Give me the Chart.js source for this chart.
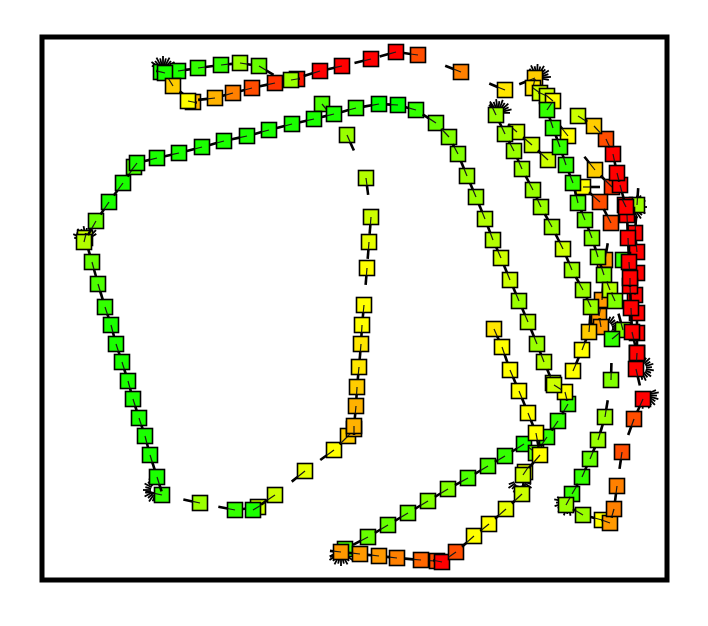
<!DOCTYPE html>
<html><head><meta charset="utf-8">
<script src="https://cdn.jsdelivr.net/npm/chart.js@4.4.0/dist/chart.umd.min.js"></script>
<style>html,body{margin:0;padding:0;background:#fff}#wrap{width:708px;height:626px}</style>
</head><body><div id="wrap"><canvas id="c"></canvas></div>
<script>
// Track samples: [easting, northing, speedLevel (0 = green ... 10 = red)]
const xExtent = [42, 667];
const yExtent = [37, 580];

const greenDiagonal = [
  [345,549,1.5],[368,537,2],[388,525,2],[408,513,2],[428,501,2.5],[448,489,2.5],[468,478,1.5],
  [488,466,1.5],[505,456,1],[524,444,0.5],[536,453,2],[547,437,1],[558,421,1],[568,404,1],[565,392,5],[554,385,4]
];

const southLoop = [
  [341,552,7],[360,554,7],[379,556,7],[397,558,7.5],[421,560,8],[437,561,8.5],[442,562,10],[456,552,8.5],
  [474,536,5],[489,524,5],[506,509,4.5],[522,494,4],[525,472,4.5],[523,475,4],[540,455,5],[536,433,5],
  [528,413,5],[519,391,5],[510,370,5],[502,347,5],[494,329,5.5]
];

const westLoop = [
  [157,477,0.5],[150,455,0.5],[145,436,0.5],[139,418,0.5],[133,399,0.5],[128,381,0.5],[122,362,0.5],
  [116,344,0.5],[111,325,0.5],[105,307,1],[98,284,1.5],[92,262,2],[85,238,4],[84,242,3.5],[96,221,2],
  [109,202,0.5],[123,183,0.5],[134,167,1.5],[137,163,0.5],[157,158,0.5],[179,153,0.5],[202,147,0.5],
  [224,141,0.5],[247,136,0.5],[269,130,0.5],[292,124,0.5],[314,119,0.5],[334,114,0.5],[356,108,1],
  [379,104,0],[398,105,0],[416,110,1],[436,123,2],[449,137,2.5],[458,154,2.5],[467,176,3],[476,197,3],
  [485,219,3.5],[493,240,3.5],[501,258,4],[510,280,4],[519,301,3],[528,322,3.5],[537,344,3],[544,362,3.5],
  [553,383,3.5]
];

const mainTrack = [
  [162,495,1],[200,503,3],[235,510,1],[258,507,4],[253,510,0.5],[275,495,4],[305,471,4.5],[334,450,5],
  [348,436,6],[354,429,6.5],[354,426,6.5],[356,406,6.5],[357,387,6],[359,367,5.5],[361,344,5.5],[362,325,5],
  [364,305,5],[367,268,5],[369,242,4.5],[371,217,4],[366,178,3.5],[347,135,3],[322,104,1.5],
  [259,66,2],[240,63,3],[221,65,1],[198,68,1],[178,71,0.5],[161,72,0.5],[165,73,0.5],[173,86,6],
  [193,102,6.5],[188,101,5],[215,98,6.5],[233,93,7.5],[252,88,8.5],[275,83,9],[297,79,9.5],[291,80,3],[320,71,10],
  [342,66,10],[371,59,10],[396,52,10],[418,55,8.5],[461,72,7.5],[505,90,5.5],[535,78,6],[533,88,5.5],
  [540,93,4],[547,96,4],[553,101,5],[547,110,1],[553,128,1],[560,147,1],[566,165,1],[573,183,1],
  [578,203,1.5],[585,220,2],[592,238,2.5],[598,257,2.5],[604,275,2.5],[610,290,3.5],[615,301,2.5],
  [623,330,2.5],[612,339,1],[611,380,2.5],[605,417,3],[598,440,3],[590,459,2],[582,477,1],[572,494,1],
  [566,505,3],[583,515,3],[602,520,5],[610,523,7],[614,509,7.5],[617,486,7.5],[622,452,8.5],[634,419,8.5],
  [643,399,10],[636,369,10],[637,353,10],[632,332,10],[631,308,10],[630,286,10],[630,278,10],[629,262,10],
  [628,238,10],[627,215,10],[625,205,10],[626,207,10],[620,185,10],[617,173,10],[613,154,10],[606,139,8.5],
  [594,126,6],[578,116,4]
];

const eastLane = [
  [496,115,3],[505,134,3],[514,151,3],[522,169,3],[533,190,3],[541,207,3],[552,227,3],[563,249,4],
  [572,270,3],[583,290,3],[591,307,3],[589,332,6],[582,350,5],[573,371,5]
];

const eastBranch = [[517,132,4],[532,145,4],[548,160,4]];

const orangeLane = [
  [568,136,5],[595,170,6],[612,187,9],[583,187,5],[600,202,8.5],[611,223,8.5],[605,260,7],[602,300,7],
  [599,316,7],[601,327,7]
];

const redLane = [
  [637,205,3],[635,233,10],[637,252,10],[623,260,1],[637,273,10],[635,295,10],[637,313,10],[637,333,10],[637,353,10]
];

// Stops (fans of heading ticks while standing still): [easting, northing, facing deg (0 = east, 90 = south)]
const stops = [
  [341,552,90],[163,70,-90],[537,78,-60],[498,113,-70],[633,207,0],[640,368,10],[568,502,135],
  [157,490,180],[606,328,0],[520,480,90],[86,240,-100],[645,395,45]
];

// top of the list is drawn last (on top)
const segments = [southLoop, greenDiagonal, westLoop, mainTrack, eastLane, eastBranch, orangeLane, redLane];

function colorFor(v){ return 'hsl(' + (120 - 12*v) + ',100%,50%)'; }

function marker(v, ang, len){
  const S = 48, c = document.createElement('canvas');
  c.width = S; c.height = S;
  const g = c.getContext('2d'), m = S/2, h = 7.5;
  g.fillStyle = colorFor(v);
  g.fillRect(m-h, m-h, 2*h, 2*h);
  g.lineWidth = 1.6; g.strokeStyle = '#000';
  g.strokeRect(m-h, m-h, 2*h, 2*h);
  const cs = Math.cos(ang), sn = Math.sin(ang);
  const tEdge = h / Math.max(Math.abs(cs), Math.abs(sn));
  g.strokeStyle = '#1a1a1a'; g.lineWidth = 1.2;
  g.beginPath(); g.moveTo(m, m); g.lineTo(m + Math.min(len, tEdge)*cs, m + Math.min(len, tEdge)*sn); g.stroke();
  if (len > tEdge) {
    g.strokeStyle = '#000'; g.lineWidth = 2.6;
    g.beginPath(); g.moveTo(m + tEdge*cs, m + tEdge*sn); g.lineTo(m + len*cs, m + len*sn); g.stroke();
  }
  return c;
}

function fan(facingDeg){
  const S = 48, c = document.createElement('canvas');
  c.width = S; c.height = S;
  const g = c.getContext('2d'), m = S/2;
  g.strokeStyle = '#000'; g.lineWidth = 1.8;
  const base = facingDeg * Math.PI / 180;
  for (let k = -5; k <= 5; k++) {
    const a = base + k * Math.PI / 13;
    const r = 12 + (k % 2 === 0 ? 2 : 0);
    g.beginPath(); g.moveTo(m + 6*Math.cos(a), m + 6*Math.sin(a)); g.lineTo(m + r*Math.cos(a), m + r*Math.sin(a)); g.stroke();
  }
  return c;
}

const datasets = segments.map(seg => {
  const styles = seg.map((p, i) => {
    let ang, d;
    if (i > 0) { const q = seg[i-1]; ang = Math.atan2(q[1]-p[1], q[0]-p[0]); d = Math.hypot(q[0]-p[0], q[1]-p[1]); }
    else { const q = seg[1]; ang = Math.atan2(q[1]-p[1], q[0]-p[0]) + Math.PI; d = Math.hypot(q[0]-p[0], q[1]-p[1]); }
    const len = Math.max(9, Math.min(17, d - 8));
    return marker(p[2], ang, len);
  });
  return {
    data: seg.map(p => ({x: p[0], y: p[1]})),
    pointStyle: styles,
    pointRadius: 8,
    showLine: false,
    clip: false
  };
});

datasets.push({
  data: stops.map(s => ({x: s[0], y: s[1]})),
  pointStyle: stops.map(s => fan(s[2])),
  pointRadius: 8,
  showLine: false,
  clip: false
});

const frame = {
  id: 'frame',
  afterDraw(ch){
    const {ctx, chartArea: a} = ch;
    ctx.save(); ctx.lineWidth = 5; ctx.strokeStyle = '#000';
    ctx.strokeRect(a.left, a.top, a.right - a.left, a.bottom - a.top);
    ctx.restore();
  }
};

new Chart(document.getElementById('c'), {
  type: 'scatter',
  data: { datasets },
  options: {
    responsive: true, maintainAspectRatio: false, animation: false, events: [],
    layout: { padding: { left: xExtent[0], top: yExtent[0], right: 708 - xExtent[1], bottom: 626 - yExtent[1] } },
    plugins: { legend: { display: false }, tooltip: { enabled: false } },
    scales: {
      x: { type: 'linear', min: xExtent[0], max: xExtent[1], display: false },
      y: { type: 'linear', min: yExtent[0], max: yExtent[1], reverse: true, display: false }
    }
  },
  plugins: [frame]
});
</script></body></html>
